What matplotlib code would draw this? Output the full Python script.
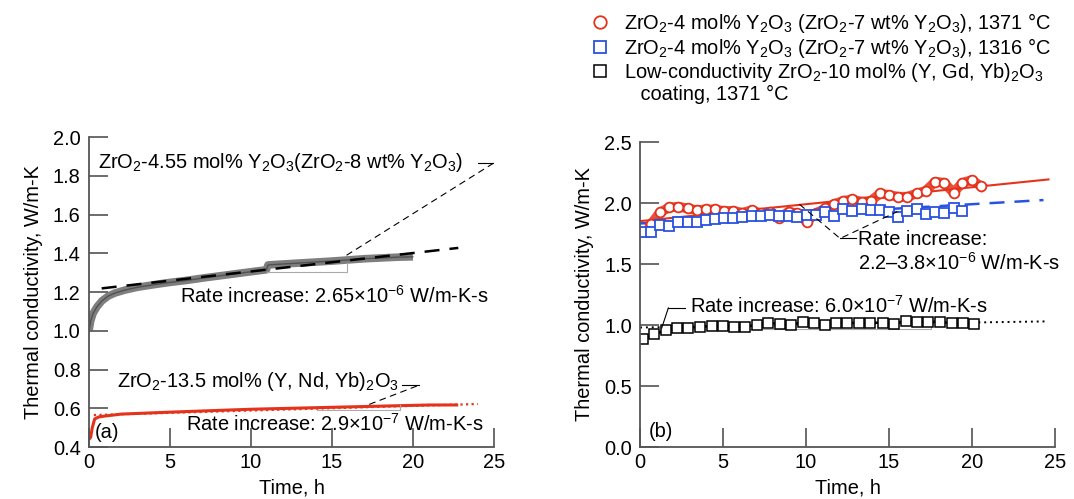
import numpy as np
import matplotlib.pyplot as plt
from matplotlib.lines import Line2D

plt.rcParams['font.family'] = ['Liberation Sans', 'DejaVu Sans']
plt.rcParams['mathtext.fontset'] = 'custom'
plt.rcParams['mathtext.rm'] = 'Liberation Sans'
plt.rcParams['mathtext.it'] = 'Liberation Sans:italic'
plt.rcParams['mathtext.default'] = 'rm'

RED = '#e5321b'
BLUE = '#2a52e0'
FS = 14.4

# (a) ZrO2-4.55 mol% Y2O3, raw trace
t_ysz = [0, 0.1, 0.25, 0.5, 0.8, 1.2, 1.6, 2.2, 3, 4, 5, 6, 7, 8, 9, 10, 10.95,
         11.05, 12, 13, 14, 15, 16, 17, 18, 19, 20]
k_ysz = [1.0, 1.05, 1.09, 1.125, 1.155, 1.18, 1.195, 1.21, 1.225, 1.238, 1.25,
         1.26, 1.272, 1.283, 1.294, 1.305, 1.315, 1.34, 1.345, 1.35, 1.355, 1.36,
         1.366, 1.372, 1.376, 1.38, 1.382]
fit_ysz_t = [0.78, 22.8]
fit_ysz_k = [1.219, 1.428]

# (a) ZrO2-13.5 mol% (Y, Nd, Yb)2O3, raw trace
t_lowk = [0, 0.1, 0.2, 0.35, 0.6, 1.0, 2, 5, 10, 15, 20, 21, 22.7]
k_lowk = [0.44, 0.45, 0.50, 0.545, 0.555, 0.56, 0.57, 0.58, 0.595, 0.605, 0.615,
          0.617, 0.617]
fit_lowk_t = [0.3, 24.0]
fit_lowk_k = [0.565, 0.622]

# (b) 1371 C, ZrO2-7 wt% Y2O3
t_red = [0.66, 1.2, 1.77, 2.31, 2.87, 3.41, 3.98, 4.54, 5.08, 5.62, 6.16, 6.73,
         7.27, 7.83, 8.37, 8.94, 9.48, 10.04, 10.58, 11.14, 11.69, 12.25, 12.79,
         13.35, 13.9, 14.46, 15.0, 15.56, 16.1, 16.67, 17.21, 17.77, 18.31, 18.88,
         19.42, 19.98, 20.52]
k_red = [1.828, 1.924, 1.965, 1.970, 1.956, 1.943, 1.948, 1.948, 1.934, 1.937,
         1.92, 1.943, 1.915, 1.926, 1.874, 1.929, 1.915, 1.847, 1.915, 1.956,
         1.992, 2.019, 2.03, 2.011, 2.019, 2.079, 2.066, 2.052, 2.052, 2.079,
         2.101, 2.175, 2.167, 2.085, 2.167, 2.189, 2.14]
fit_red_t = [0, 24.6]
fit_red_k = [1.852, 2.194]

# (b) 1316 C, ZrO2-7 wt% Y2O3
t_blue = [0.24, 0.66, 1.2, 1.77, 2.31, 2.87, 3.41, 3.98, 4.54, 5.08, 5.62, 6.16,
          6.73, 7.27, 7.83, 8.37, 8.94, 9.48, 10.04, 10.58, 11.14, 11.69, 12.25,
          12.79, 13.35, 13.9, 14.46, 15.0, 15.56, 16.1, 16.67, 17.21, 17.77,
          18.31, 18.88, 19.42]
k_blue = [1.765, 1.759, 1.82, 1.811, 1.842, 1.842, 1.847, 1.861, 1.866, 1.874,
          1.874, 1.888, 1.893, 1.893, 1.902, 1.893, 1.893, 1.888, 1.902, 1.902,
          1.924, 1.896, 1.948, 1.937, 1.951, 1.943, 1.943, 1.929, 1.888, 1.937,
          1.948, 1.907, 1.929, 1.915, 1.956, 1.934]
fit_blue_t = [0, 24.3]
fit_blue_k = [1.833, 2.025]

# (b) low-conductivity coating, 1371 C
t_black = [0.2, 0.86, 1.57, 2.21, 2.91, 3.61, 4.32, 4.98, 5.66, 6.33, 7.03, 7.73,
           8.43, 9.1, 9.8, 10.48, 11.14, 11.81, 12.49, 13.19, 13.86, 14.62, 15.32,
           16.0, 16.71, 17.37, 18.07, 18.77, 19.44, 20.12]
k_black = [0.883, 0.924, 0.959, 0.973, 0.978, 0.986, 0.992, 0.992, 0.986, 0.986,
           1.0, 1.019, 1.008, 1.0, 1.027, 1.019, 1.0, 1.019, 1.019, 1.014, 1.019,
           1.019, 1.008, 1.035, 1.027, 1.027, 1.027, 1.014, 1.014, 1.008]
fit_black_t = [0, 24.5]
fit_black_k = [0.98, 1.03]

fig = plt.figure(figsize=(10.74, 4.99), dpi=100)
ax1 = fig.add_axes([0.0829, 0.1042, 0.377, 0.621])
ax2 = fig.add_axes([0.596, 0.1042, 0.3864, 0.611])


def style_axis(ax):
    for s in ['top', 'right']:
        ax.spines[s].set_visible(False)
    for s in ['left', 'bottom']:
        ax.spines[s].set_color('#555555')
        ax.spines[s].set_linewidth(1.3)
    ax.tick_params(direction='in', length=14, width=1.1, color='#444444',
                   labelsize=FS, pad=4)
    ax.tick_params(axis='y', pad=6)
    ax.set_xlim(0, 25)
    ax.set_xticks([0, 5, 10, 15, 20, 25])
    ax.set_xlabel('Time, h', fontsize=FS, labelpad=5)
    ax.set_ylabel('Thermal conductivity, W/m-K', fontsize=FS, labelpad=7)


lead = dict(color='black', lw=0.8, linestyle=(0, (6, 4)))

# ---- panel (a)
style_axis(ax1)
ax1.set_ylim(0.4, 2.0)
ax1.set_yticks(np.arange(0.4, 2.01, 0.2))
ax1.set_yticklabels(['%.1f' % v for v in np.arange(0.4, 2.01, 0.2)])

ax1.plot(t_ysz, k_ysz, color='#5e5e5e', lw=5.5, alpha=0.8, solid_capstyle='butt')
ax1.plot(t_ysz, k_ysz, color='#333333', lw=1.0, alpha=0.6)
ax1.plot(fit_ysz_t, fit_ysz_k, color='black', lw=1.8, linestyle=(0, (6, 4)))
ax1.plot(t_lowk, k_lowk, color=RED, lw=2.2)
ax1.plot(fit_lowk_t, fit_lowk_k, color=RED, lw=1.6, linestyle=(0, (1, 1.5)))

ax1.plot([11.0, 15.9, 15.9], [1.305, 1.305, 1.35], color='#aaaaaa', lw=0.8)
ax1.plot([14.1, 19.2, 19.2], [0.592, 0.592, 0.615], color='#aaaaaa', lw=0.8)

ax1.plot([15.9, 25.0], [1.39, 1.867], **lead)
ax1.plot([24.0, 25.0], [1.867, 1.867], color='black', lw=0.8)
ax1.text(0.55, 1.871, r'ZrO$_2$-4.55 mol% Y$_2$O$_3$(ZrO$_2$-8 wt% Y$_2$O$_3$)',
         fontsize=FS, va='center', ha='left')
ax1.text(5.6, 1.18, r'Rate increase: 2.65×10$^{-6}$ W/m-K-s',
         fontsize=FS, va='center', ha='left')

ax1.plot([17.3, 20.4], [0.62, 0.72], **lead)
ax1.plot([19.3, 20.4], [0.72, 0.72], color='black', lw=0.8)
ax1.text(1.73, 0.737, r'ZrO$_2$-13.5 mol% (Y, Nd, Yb)$_2$O$_3$',
         fontsize=FS, va='center', ha='left')
ax1.text(6.0, 0.519, r'Rate increase: 2.9×10$^{-7}$ W/m-K-s',
         fontsize=FS, va='center', ha='left')
ax1.text(0.37, 0.477, '(a)', fontsize=FS, va='center', ha='left')

# ---- panel (b)
style_axis(ax2)
ax2.set_ylim(0, 2.5)
ax2.set_yticks([0, 0.5, 1.0, 1.5, 2.0, 2.5])
ax2.set_yticklabels(['0.0', '0.5', '1.0', '1.5', '2.0', '2.5'])

ax2.plot(fit_blue_t, fit_blue_k, color=BLUE, lw=1.8, linestyle=(0, (6, 4)))
ax2.plot(t_blue, k_blue, color=BLUE, lw=1.2)
ax2.plot(t_red, k_red, color=RED, lw=7, alpha=0.85)
ax2.plot(fit_red_t, fit_red_k, color=RED, lw=1.5)
ax2.plot(t_red, k_red, 'o', ms=7, mfc='white', mec=RED, mew=1.3, ls='none')
ax2.plot(t_blue, k_blue, 's', ms=7, mfc='white', mec=BLUE, mew=1.3, ls='none')

ax2.plot(fit_black_t, fit_black_k, color='black', lw=1.4, linestyle=(0, (1, 2)))
ax2.plot([1.3, 17.5, 17.5], [0.97, 0.97, 1.03], color='#aaaaaa', lw=0.8)
ax2.plot(t_black, k_black, color='black', lw=1.8)
ax2.plot(t_black, k_black, 's', ms=7, mfc='white', mec='black', mew=1.1, ls='none')

ax2.plot([9.6, 12.05, 15.5], [1.99, 1.71, 1.93], **lead)
ax2.plot([12.05, 13.0], [1.71, 1.71], color='black', lw=0.8)
ax2.text(13.1, 1.70, 'Rate increase:', fontsize=FS, va='center', ha='left')
ax2.text(13.1, 1.51, r'2.2–3.8×10$^{-6}$ W/m-K-s', fontsize=FS,
         va='center', ha='left')

ax2.plot([1.3, 1.7], [0.975, 1.14], color='black', lw=0.8)
ax2.plot([1.7, 2.7], [1.14, 1.14], color='black', lw=0.8)
ax2.text(3.0, 1.156, r'Rate increase: 6.0×10$^{-7}$ W/m-K-s', fontsize=FS,
         va='center', ha='left')
ax2.text(0.55, 0.125, '(b)', fontsize=FS, va='center', ha='left')

handles = [
    Line2D([], [], marker='o', ms=9, mfc='white', mec=RED, mew=1.3, ls='none'),
    Line2D([], [], marker='s', ms=9, mfc='white', mec=BLUE, mew=1.3, ls='none'),
    Line2D([], [], marker='s', ms=9, mfc='white', mec='black', mew=1.1, ls='none'),
    Line2D([], [], ls='none'),
]
labels = [
    r'ZrO$_2$-4 mol% Y$_2$O$_3$ (ZrO$_2$-7 wt% Y$_2$O$_3$), 1371 °C',
    r'ZrO$_2$-4 mol% Y$_2$O$_3$ (ZrO$_2$-7 wt% Y$_2$O$_3$), 1316 °C',
    'Low-conductivity ZrO$_2$-10 mol% (Y, Gd, Yb)$_2$O$_3$',
    '   coating, 1371 °C',
]
fig.legend(handles, labels, loc='upper left', bbox_to_anchor=(0.538, 1.003),
           frameon=False, fontsize=FS, handlelength=1.0, handletextpad=0.7,
           labelspacing=0.05, borderaxespad=0.2)

fig.savefig('out.png', dpi=100)
